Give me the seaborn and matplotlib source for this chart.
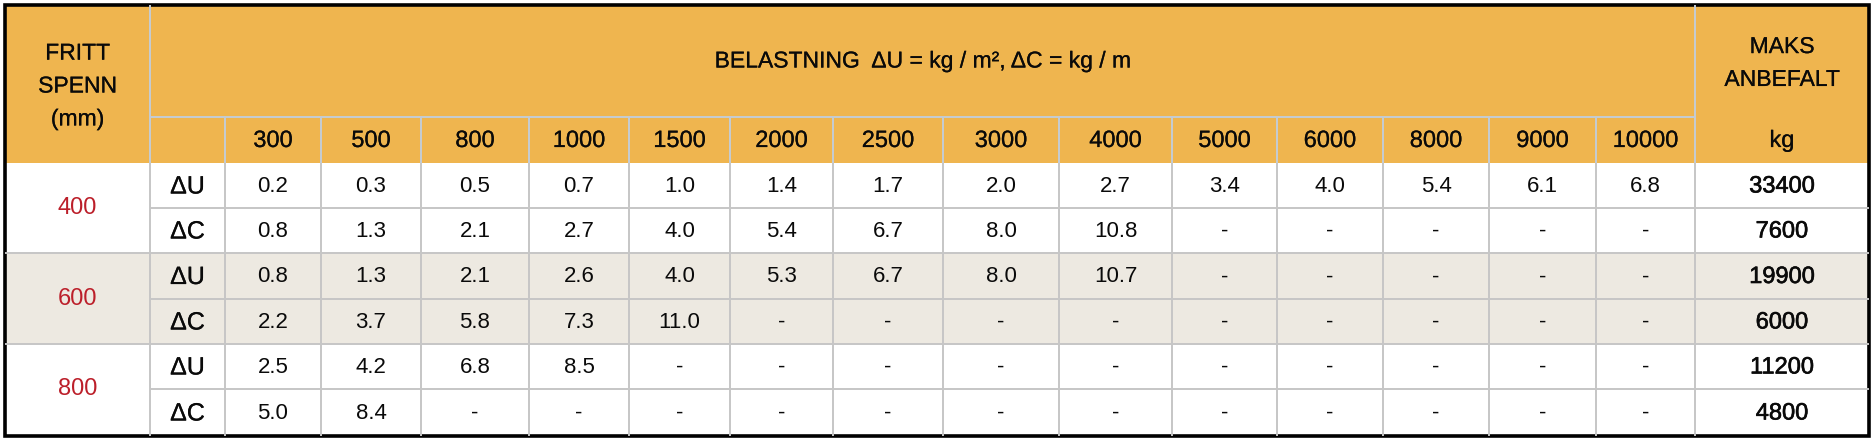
# Nedbøyningstabell: fritt spenn vs. belastning
import matplotlib
matplotlib.use('Agg')
import matplotlib.pyplot as plt
import matplotlib.patheffects as pe
import seaborn as sns
import numpy as np
from matplotlib.colors import ListedColormap
from matplotlib.patches import Rectangle

# data
spans = [400, 600, 800]
loads = [300, 500, 800, 1000, 1500, 2000, 2500, 3000, 4000, 5000, 6000, 8000, 9000, 10000]
du_400 = [0.2, 0.3, 0.5, 0.7, 1.0, 1.4, 1.7, 2.0, 2.7, 3.4, 4.0, 5.4, 6.1, 6.8]
dc_400 = [0.8, 1.3, 2.1, 2.7, 4.0, 5.4, 6.7, 8.0, 10.8]
du_600 = [0.8, 1.3, 2.1, 2.6, 4.0, 5.3, 6.7, 8.0, 10.7]
dc_600 = [2.2, 3.7, 5.8, 7.3, 11.0]
du_800 = [2.5, 4.2, 6.8, 8.5]
dc_800 = [5.0, 8.4]
max_u = [33400, 19900, 11200]
max_c = [7600, 6000, 4800]
row_kinds = ['ΔU', 'ΔC']

title = 'BELASTNING  ΔU = kg / m², ΔC = kg / m'
left_head = 'FRITT\nSPENN\n(mm)'
right_head = 'MAKS\nANBEFALT'
unit = 'kg'

# layout (pixels)
x_edges = [5, 150, 225, 321, 421, 529, 629, 730, 833, 943, 1059, 1172,
           1277, 1383, 1489, 1596, 1695, 1869]
y_head = [5, 117, 163]
y_rows = [163, 208, 253, 299, 344, 389, 436]

orange = '#EFB54F'
band = '#EDE9E1'
red = '#BC1F2A'
ink = '#0A0A0A'
head_line = '#C4CCD4'
grid_line = '#C6C6C6'

sns.set_theme(style='white')
plt.rcParams['font.family'] = ['Liberation Sans', 'DejaVu Sans']

fig = plt.figure(figsize=(18.76, 4.40), dpi=100)
ax = fig.add_axes([0, 0, 1, 1])
ax.set_xlim(0, 1876)
ax.set_ylim(440, 0)
ax.axis('off')

# body backgrounds (white / grey band per span group)
shade = np.array([[i // 2 % 2] * (len(x_edges) - 1) for i in range(len(y_rows) - 1)])
ax.pcolormesh(x_edges, y_rows, shade, cmap=ListedColormap(['white', band]),
              vmin=0, vmax=1, shading='flat')

# header background
ax.add_patch(Rectangle((x_edges[0], y_head[0]), x_edges[-1] - x_edges[0],
                       y_head[-1] - y_head[0], color=orange, lw=0))

lw = 1.4
# header lines
ax.vlines([x_edges[1], x_edges[-2]], y_head[0], y_head[-1], color=head_line, lw=lw)
ax.vlines(x_edges[2:-2], y_head[1], y_head[-1], color=head_line, lw=lw)
ax.hlines(y_head[1], x_edges[1], x_edges[-2], color=head_line, lw=lw)

# body lines
ax.vlines(x_edges[1:-1], y_rows[0], y_rows[-1], color=grid_line, lw=lw)
for i, y in enumerate(y_rows[1:-1], start=1):
    x0 = x_edges[0] if i % 2 == 0 else x_edges[1]
    ax.hlines(y, x0, x_edges[-1], color=grid_line, lw=lw)

# outer frame
ax.add_patch(Rectangle((x_edges[0], y_head[0]), x_edges[-1] - x_edges[0],
                       y_rows[-1] - y_head[0], fill=False, ec='black', lw=2.6))

fs = 16.5
thin = [pe.withStroke(linewidth=0.15, foreground=ink)]
thick = [pe.withStroke(linewidth=0.45, foreground=ink)]
xc = [(a + b) / 2 for a, b in zip(x_edges[:-1], x_edges[1:])]
yc = [(a + b) / 2 for a, b in zip(y_rows[:-1], y_rows[1:])]

# header texts
ax.text(xc[0], (y_head[0] + y_head[2]) / 2 + 2, left_head, ha='center', va='center',
        fontsize=fs, color=ink, linespacing=1.55, path_effects=thin)
ax.text((x_edges[1] + x_edges[-2]) / 2, (y_head[0] + y_head[1]) / 2, title,
        ha='center', va='center', fontsize=fs, color=ink, path_effects=thin)
ax.text(xc[-1], (y_head[0] + y_head[1]) / 2 + 2, right_head, ha='center', va='center',
        fontsize=fs, color=ink, linespacing=1.55, path_effects=thin)
y_sub = (y_head[1] + y_head[2]) / 2 + 1
for j, ld in enumerate(loads):
    ax.text(xc[j + 2], y_sub, str(ld), ha='center', va='center', fontsize=fs + 0.5,
            color=ink, path_effects=thin)
ax.text(xc[-1], y_sub, unit, ha='center', va='center', fontsize=fs + 0.5, color=ink,
        path_effects=thin)

# body texts
table = [du_400, dc_400, du_600, dc_600, du_800, dc_800]
max_vals = [v for pair in zip(max_u, max_c) for v in pair]
for g, sp in enumerate(spans):
    ax.text(xc[0], y_rows[2 * g + 1], str(sp), ha='center', va='center',
            fontsize=fs + 0.5, color=red)
for i, vals in enumerate(table):
    ax.text(xc[1], yc[i] + 1, row_kinds[i % 2], ha='center', va='center',
            fontsize=fs + 1.5, color=ink, path_effects=thin)
    for j in range(len(loads)):
        s = f'{vals[j]:.1f}' if j < len(vals) else '-'
        ax.text(xc[j + 2], yc[i] + 1, s, ha='center', va='center',
                fontsize=fs - 0.5, color=ink)
    ax.text(xc[-1], yc[i] + 1, str(max_vals[i]), ha='center', va='center',
            fontsize=fs + 0.5, color=ink, path_effects=thick)

fig.savefig('out.png', dpi=100, facecolor='white')
